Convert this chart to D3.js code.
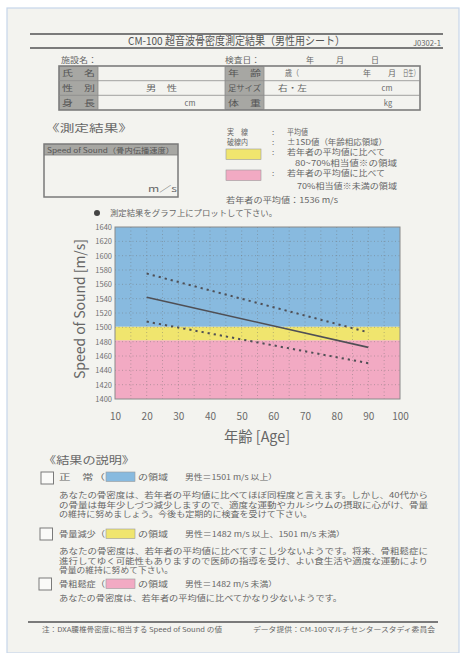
<!DOCTYPE html>
<html>
<head>
<meta charset="utf-8">
<script src="https://cdn.jsdelivr.net/npm/d3@7"></script>
<style>
  body { margin: 0; background: #fff; }
  svg { display: block; }
  text { font-family: "Noto Sans CJK JP", "Noto Sans", sans-serif; }
</style>
</head>
<body>
<div id="sheet"></div>
<script>
// values
const ages = [20, 90]
const meanSOS = [1542, 1472]
const upperSD = [1575, 1493]
const lowerSD = [1508, 1450]
// zones: osteoporosis / bone loss / normal
const zoneLow = [1400, 1482, 1501]
const zoneHigh = [1482, 1501, 1640]
const xTickValues = [10, 20, 30, 40, 50, 60, 70, 80, 90, 100]
const yTickValues = [1400, 1420, 1440, 1460, 1480, 1500, 1520, 1540, 1560, 1580, 1600, 1620, 1640]
const xGridValues = [15, 20, 25, 30, 35, 40, 45, 50, 55, 60, 65, 70, 75, 80, 85, 90, 95]
const youngMean = 1536

const W = 461, H = 653
const ink = '#666'
const dark = '#555'
const cellGray = '#a7a7a3'
const zoneColors = ['#f2aac3', '#f0e56e', '#88badf']

const svg = d3.select('#sheet').append('svg')
  .attr('width', W).attr('height', H)

// the paper
svg.append('rect').attr('width', W).attr('height', H).attr('fill', '#fff')
svg.append('rect').attr('x', 7).attr('y', 8).attr('width', W - 9).attr('height', H - 8)
  .attr('fill', '#f3f3ef').attr('stroke', '#c6d6ea').attr('stroke-width', 1.2)

// little helper, y is the baseline
function put(g, x, y, s, size, opt = {}) {
  const t = g.append('text').attr('x', x).attr('y', y)
    .attr('font-size', size).attr('fill', opt.fill || ink).text(s)
  if (opt.w) t.attr('textLength', opt.w).attr('lengthAdjust', 'spacingAndGlyphs')
  if (opt.anchor) t.attr('text-anchor', opt.anchor)
  if (opt.weight) t.attr('font-weight', opt.weight)
  return t
}

const page = svg.append('g')

// header
page.append('line').attr('x1', 30).attr('x2', 443).attr('y1', 34).attr('y2', 34)
  .attr('stroke', '#7a7a7a').attr('stroke-width', 1.8)
page.append('line').attr('x1', 30).attr('x2', 443).attr('y1', 48).attr('y2', 48)
  .attr('stroke', '#7a7a7a').attr('stroke-width', 1.8)
put(page, 128, 45, 'CM-100 超音波骨密度測定結果（男性用シート）', 11, { w: 217, fill: dark })
put(page, 413, 46, 'J0302-1', 8, { w: 28 })

put(page, 61, 63, '施設名：', 8, { w: 36 })
put(page, 225, 63, '検査日：', 8, { w: 35 })
put(page, 310, 63, '年', 8, { anchor: 'middle' })
put(page, 340, 63, '月', 8, { anchor: 'middle' })
put(page, 375, 63, '日', 8, { anchor: 'middle' })

// personal data table
const tblX = [59, 98, 225, 264, 420]
const tblY = [66, 80.7, 95.3, 110]
const tbl = page.append('g')
tbl.append('rect').attr('x', tblX[0]).attr('y', tblY[0])
  .attr('width', tblX[1] - tblX[0]).attr('height', tblY[3] - tblY[0]).attr('fill', cellGray)
tbl.append('rect').attr('x', tblX[2]).attr('y', tblY[0])
  .attr('width', tblX[3] - tblX[2]).attr('height', tblY[3] - tblY[0]).attr('fill', cellGray)
tbl.append('rect').attr('x', tblX[0]).attr('y', tblY[0])
  .attr('width', tblX[4] - tblX[0]).attr('height', tblY[3] - tblY[0])
  .attr('fill', 'none').attr('stroke', '#7c7c7c').attr('stroke-width', 1.6)
tblY.slice(1, 3).forEach(yy => {
  tbl.append('line').attr('x1', tblX[0]).attr('x2', tblX[4]).attr('y1', yy).attr('y2', yy)
    .attr('stroke', '#8c8c8c').attr('stroke-width', 0.8)
})
tblX.slice(1, 4).forEach(xx => {
  tbl.append('line').attr('x1', xx).attr('x2', xx).attr('y1', tblY[0]).attr('y2', tblY[3])
    .attr('stroke', '#8c8c8c').attr('stroke-width', 0.8)
})
const rowBase = [0, 1, 2].map(i => (tblY[i] + tblY[i + 1]) / 2 + 3)
;['氏　名', '性　別', '身　長'].forEach((s, i) =>
  put(tbl, 62, rowBase[i], s, 8, { w: 33, fill: dark }))
;['年　齢', '足サイズ', '体　重'].forEach((s, i) =>
  put(tbl, 228, rowBase[i], s, 8, { w: 33, fill: dark }))
put(tbl, 285, rowBase[0], '歳（', 8, { w: 14 })
put(tbl, 367, rowBase[0], '年', 8, { anchor: 'middle' })
put(tbl, 392, rowBase[0], '月', 8, { anchor: 'middle' })
put(tbl, 403, rowBase[0], '日生）', 8, { w: 16 })
put(tbl, 146, rowBase[1], '男　性', 8, { w: 31 })
put(tbl, 278, rowBase[1], '右・左', 8, { w: 29 })
put(tbl, 387, rowBase[1], 'cm', 7.5, { anchor: 'middle' })
put(tbl, 190, rowBase[2], 'cm', 7.5, { anchor: 'middle' })
put(tbl, 388, rowBase[2], 'kg', 7.5, { anchor: 'middle' })

// result box
put(page, 45, 131.5, '《測定結果》', 10, { w: 88 })
page.append('rect').attr('x', 44).attr('y', 144).attr('width', 134).attr('height', 11)
  .attr('fill', cellGray)
page.append('rect').attr('x', 44).attr('y', 144).attr('width', 134).attr('height', 53)
  .attr('fill', 'none').attr('stroke', '#7a7a7a').attr('stroke-width', 1.5)
page.append('line').attr('x1', 44).attr('x2', 178).attr('y1', 155).attr('y2', 155)
  .attr('stroke', '#7a7a7a').attr('stroke-width', 0.8)
put(page, 47, 152.5, 'Speed of Sound（骨内伝播速度）', 7, { w: 127, fill: dark })
put(page, 148, 192, 'm／s', 8, { w: 29 })

// legend
const lg = page.append('g')
put(lg, 227, 135, '実　線', 8, { w: 21 })
put(lg, 272, 135, ':', 8)
put(lg, 287, 135, '平均値', 8, { w: 21 })
put(lg, 227, 145, '破線内', 8, { w: 21 })
put(lg, 272, 145, ':', 8)
put(lg, 287, 145, '±1SD値（年齢相応領域）', 8, { w: 100 })
lg.append('rect').attr('x', 226).attr('y', 149).attr('width', 35).attr('height', 10.5)
  .attr('fill', zoneColors[1]).attr('stroke', '#9a9a9a').attr('stroke-width', 0.6)
put(lg, 272, 155, ':', 8)
put(lg, 287, 155, '若年者の平均値に比べて', 8, { w: 98 })
put(lg, 295, 165.5, '80~70%相当値※の領域', 8, { w: 102 })
lg.append('rect').attr('x', 226).attr('y', 170).attr('width', 35).attr('height', 10.5)
  .attr('fill', zoneColors[0]).attr('stroke', '#9a9a9a').attr('stroke-width', 0.6)
put(lg, 272, 176, ':', 8)
put(lg, 287, 176, '若年者の平均値に比べて', 8, { w: 98 })
put(lg, 297, 189, '70%相当値※未満の領域', 8, { w: 100 })
put(lg, 226, 203, `若年者の平均値：${youngMean} m/s`, 8, { w: 112 })

// instruction line above the chart
page.append('circle').attr('cx', 97).attr('cy', 213).attr('r', 3).attr('fill', '#444')
put(page, 110, 216, '測定結果をグラフ上にプロットして下さい。', 8, { w: 167 })

// ---- the chart ----
const plot = { left: 115, right: 400, top: 227, bottom: 399 }
const x = d3.scaleLinear().domain([10, 100]).range([plot.left, plot.right])
const y = d3.scaleLinear().domain([1400, 1640]).range([plot.bottom, plot.top])
const chart = svg.append('g')

// coloured zones
chart.selectAll('rect.zone')
  .data(zoneLow.map((lo, i) => ({ lo, hi: zoneHigh[i], c: zoneColors[i] })))
  .join('rect').attr('class', 'zone')
  .attr('x', x(10)).attr('width', x(100) - x(10))
  .attr('y', d => y(d.hi)).attr('height', d => y(d.lo) - y(d.hi))
  .attr('fill', d => d.c)

// dotted grid
chart.selectAll('line.vgrid').data(xGridValues).join('line').attr('class', 'vgrid')
  .attr('x1', d => x(d)).attr('x2', d => x(d))
  .attr('y1', plot.top).attr('y2', plot.bottom)
  .attr('stroke', '#6f6f6f').attr('stroke-opacity', 0.55)
  .attr('stroke-width', 0.8).attr('stroke-dasharray', '1,2.5')
chart.selectAll('line.hgrid').data(yTickValues.slice(1, -1)).join('line').attr('class', 'hgrid')
  .attr('x1', plot.left).attr('x2', plot.right)
  .attr('y1', d => y(d)).attr('y2', d => y(d))
  .attr('stroke', '#6f6f6f').attr('stroke-opacity', 0.55)
  .attr('stroke-width', 0.8).attr('stroke-dasharray', '1,2.5')

chart.append('rect').attr('x', plot.left).attr('y', plot.top)
  .attr('width', plot.right - plot.left).attr('height', plot.bottom - plot.top)
  .attr('fill', 'none').attr('stroke', '#8a8a8a').attr('stroke-width', 1)

// mean and +-1SD lines
const line = d3.line().x(d => x(d[0])).y(d => y(d[1]))
chart.append('path').datum(d3.zip(ages, meanSOS)).attr('d', line)
  .attr('fill', 'none').attr('stroke', '#4f4f55').attr('stroke-width', 1.6)
;[upperSD, lowerSD].forEach(sd => {
  chart.append('path').datum(d3.zip(ages, sd)).attr('d', line)
    .attr('fill', 'none').attr('stroke', '#4f4f55').attr('stroke-width', 2)
    .attr('stroke-dasharray', '2.2,4')
})

// axes
const xAxis = chart.append('g').attr('transform', `translate(0,${plot.bottom})`)
  .call(d3.axisBottom(x).tickValues(xTickValues).tickSize(0).tickPadding(14))
xAxis.select('.domain').remove()
xAxis.selectAll('text').attr('font-size', 10).attr('fill', '#6a6a6a')
  .attr('font-family', '"Liberation Sans", Arial, sans-serif')

const yAxis = chart.append('g').attr('transform', `translate(${plot.left},0)`)
  .call(d3.axisLeft(y).tickValues(yTickValues).tickFormat(d3.format('d'))
    .tickSize(0).tickPadding(3))
yAxis.select('.domain').remove()
yAxis.selectAll('text').attr('font-size', 7.5).attr('fill', '#707070')
  .attr('font-family', '"Liberation Sans Narrow", "Liberation Sans", Arial, sans-serif')

chart.append('text')
  .attr('transform', `translate(85,${(plot.top + plot.bottom) / 2 - 4}) rotate(-90)`)
  .attr('text-anchor', 'middle').attr('font-size', 14).attr('fill', ink)
  .attr('font-family', '"Liberation Sans", Arial, sans-serif')
  .attr('textLength', 140).attr('lengthAdjust', 'spacingAndGlyphs')
  .text('Speed of Sound [m/s]')
put(chart, 257, 442, '年齢 [Age]', 15, { anchor: 'middle', w: 66 })

// ---- explanation of the result ----
const ex = svg.append('g')
put(ex, 43, 463.5, '《結果の説明》', 10, { w: 92 })

const heads = [
  { base: 480, box: [41, 472], label: '正　常（', zone: 2, range: '男性＝1501 m/s 以上）', rw: 92 },
  { base: 537, box: [40, 528], label: '骨量減少（', zone: 1, range: '男性＝1482 m/s 以上、1501 m/s 未満）', rw: 160 },
  { base: 587, box: [39, 578], label: '骨粗鬆症（', zone: 0, range: '男性＝1482 m/s 未満）', rw: 92 }
]
heads.forEach(h => {
  ex.append('rect').attr('x', h.box[0]).attr('y', h.box[1]).attr('width', 12.5).attr('height', 12)
    .attr('fill', '#fafaf8').attr('stroke', '#7a7a7a').attr('stroke-width', 1)
  put(ex, 59, h.base, h.label, 8, { w: 46 })
  ex.append('rect').attr('x', 106).attr('y', h.base - 8).attr('width', 29).attr('height', 9.5)
    .attr('fill', zoneColors[h.zone]).attr('stroke', '#9a9a9a').attr('stroke-width', 0.6)
  put(ex, 138, h.base, 'の領域', 8, { w: 30 })
  put(ex, 185, h.base, h.range, 7.5, { w: h.rw })
})

const paras = [
  { base: [498, 507.5, 517], w: [369, 369, 253], lines: [
    'あなたの骨密度は、若年者の平均値に比べてほぼ同程度と言えます。しかし、40代から',
    'の骨量は毎年少しづつ減少しますので、適度な運動やカルシウムの摂取に心がけ、骨量',
    'の維持に努めましょう。今後も定期的に検査を受けて下さい。'] },
  { base: [554, 563.5, 573], w: [369, 369, 114], lines: [
    'あなたの骨密度は、若年者の平均値に比べてすこし少ないようです。将来、骨粗鬆症に',
    '進行してゆく可能性もありますので医師の指導を受け、よい食生活や適度な運動により',
    '骨量の維持に努めて下さい。'] },
  { base: [601], w: [283], lines: [
    'あなたの骨密度は、若年者の平均値に比べてかなり少ないようです。'] }
]
paras.forEach(p => p.lines.forEach((s, i) =>
  put(ex, 59, p.base[i], s, 7.6, { w: p.w[i] })))

// footer
ex.append('line').attr('x1', 28).attr('x2', 438).attr('y1', 622).attr('y2', 622)
  .attr('stroke', '#7a7a7a').attr('stroke-width', 1.8)
put(ex, 42, 632, '注：DXA腰椎骨密度に相当する Speed of Sound の値', 6.5, { w: 180 })
put(ex, 253, 632, 'データ提供：CM-100マルチセンタースタディ委員会', 6.5, { w: 182 })
</script>
</body>
</html>
